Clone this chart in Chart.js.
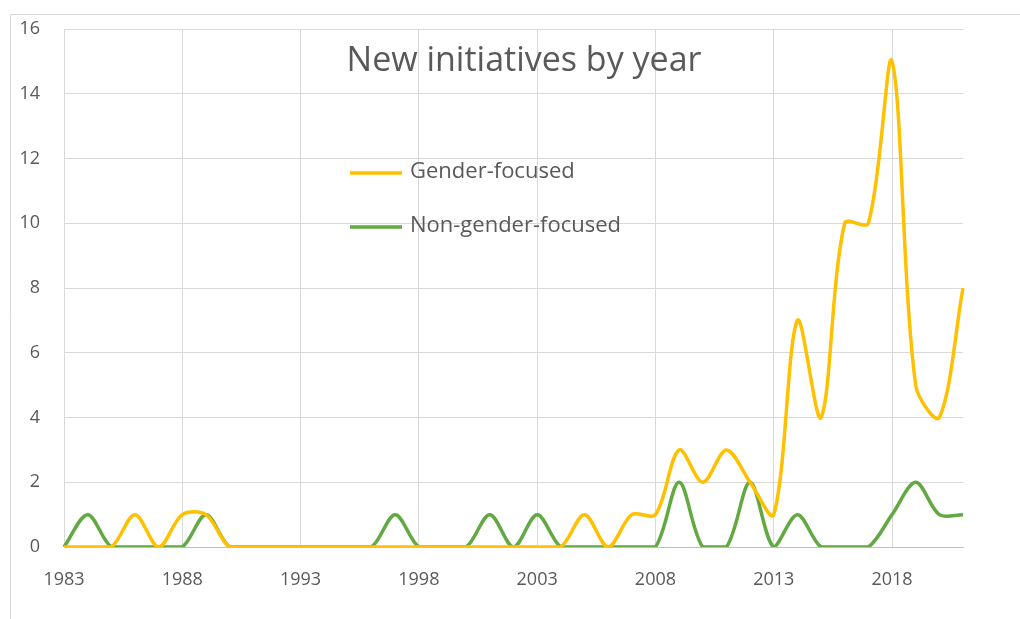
<!DOCTYPE html>
<html lang="en">
<head>
  <meta charset="UTF-8" />
  <title>New initiatives by year</title>
  <script src="https://cdn.jsdelivr.net/npm/chart.js"></script>
  <style>
    body { margin: 0; background: #fff; }
    .wrap { position: relative; width: 1020px; height: 619px; }
  </style>
</head>
<body>
  <div class="wrap"><canvas id="chart" width="1020" height="619"></canvas></div>

  <script>
    const years = [];
    for (let y = 1983; y <= 2021; y++) years.push(String(y));

    const genderFocused = [
      0, 0, 0, 1, 0, 1, 1, 0, 0, 0,   // 1983-1992
      0, 0, 0, 0, 0, 0, 0, 0, 0, 0,   // 1993-2002
      0, 0, 1, 0, 1, 1, 3, 2, 3, 2,   // 2003-2012
      1, 7, 4, 10, 10, 15, 5, 4, 8    // 2013-2021
    ];
    const nonGenderFocused = [
      0, 1, 0, 0, 0, 0, 1, 0, 0, 0,   // 1983-1992
      0, 0, 0, 0, 1, 0, 0, 0, 1, 0,   // 1993-2002
      1, 0, 0, 0, 0, 0, 2, 0, 0, 2,   // 2003-2012
      0, 1, 0, 0, 0, 1, 2, 1, 1       // 2013-2021
    ];
    const yTicks = [0, 2, 4, 6, 8, 10, 12, 14, 16];

    const FONT = "'Open Sans', sans-serif";
    const TEXT = '#595959';

    // title, in-plot legend and the outer frame
    const decor = {
      id: 'decor',
      afterDraw(chart) {
        const ctx = chart.ctx;
        ctx.save();
        ctx.strokeStyle = '#d9d9d9';
        ctx.lineWidth = 1;
        ctx.beginPath();
        ctx.moveTo(10.5, 619); ctx.lineTo(10.5, 14.5); ctx.lineTo(1020, 14.5);
        ctx.stroke();

        ctx.fillStyle = TEXT;
        ctx.font = "34px " + FONT;
        ctx.textAlign = 'center';
        ctx.textBaseline = 'middle';
        ctx.fillText('New initiatives by year', 524, 61);

        ctx.font = "22px " + FONT;
        ctx.textAlign = 'left';
        chart.data.datasets.forEach((ds, i) => {
          const y = 173 + i * 54;
          ctx.strokeStyle = ds.borderColor;
          ctx.lineWidth = 3.5;
          ctx.beginPath();
          ctx.moveTo(350, y); ctx.lineTo(402, y);
          ctx.stroke();
          ctx.fillText(ds.label, 410, y - 1);
        });
        ctx.restore();
      }
    };

    new Chart(document.getElementById('chart'), {
      type: 'line',
      data: {
        labels: years,
        datasets: [
          {
            label: 'Gender-focused',
            data: genderFocused,
            borderColor: '#FFC000',
            borderWidth: 3.5,
            pointRadius: 0,
            tension: 0.32,
            fill: false
          },
          {
            label: 'Non-gender-focused',
            data: nonGenderFocused,
            borderColor: '#62A843',
            borderWidth: 3.5,
            pointRadius: 0,
            tension: 0.32,
            fill: false
          }
        ]
      },
      options: {
        responsive: false,
        animation: false,
        layout: { padding: { left: 12, right: 57, top: 29, bottom: 0 } },
        plugins: {
          legend: { display: false },
          title: { display: false },
          tooltip: { enabled: false }
        },
        scales: {
          x: {
            offset: false,
            grid: { color: '#d9d9d9', drawTicks: false },
            border: { color: '#bfbfbf', width: 1 },
            ticks: {
              autoSkip: false,
              maxRotation: 0,
              padding: 22,
              color: TEXT,
              font: { family: FONT, size: 18 },
              callback: function (v, i) {
                return (i % 5 === 0) ? years[i] : null;
              }
            },
            afterFit: s => { s.height = 72; }
          },
          y: {
            min: 0,
            max: 16,
            afterBuildTicks: s => { s.ticks = yTicks.map(v => ({ value: v })); },
            grid: { color: '#d9d9d9', drawTicks: false },
            border: { display: false },
            ticks: {
              padding: 24,
              color: TEXT,
              font: { family: FONT, size: 18 }
            },
            afterFit: s => { s.width = 52; s.paddingTop = 0; s.paddingBottom = 0; }
          }
        }
      },
      plugins: [decor]
    });
  </script>
</body>
</html>
